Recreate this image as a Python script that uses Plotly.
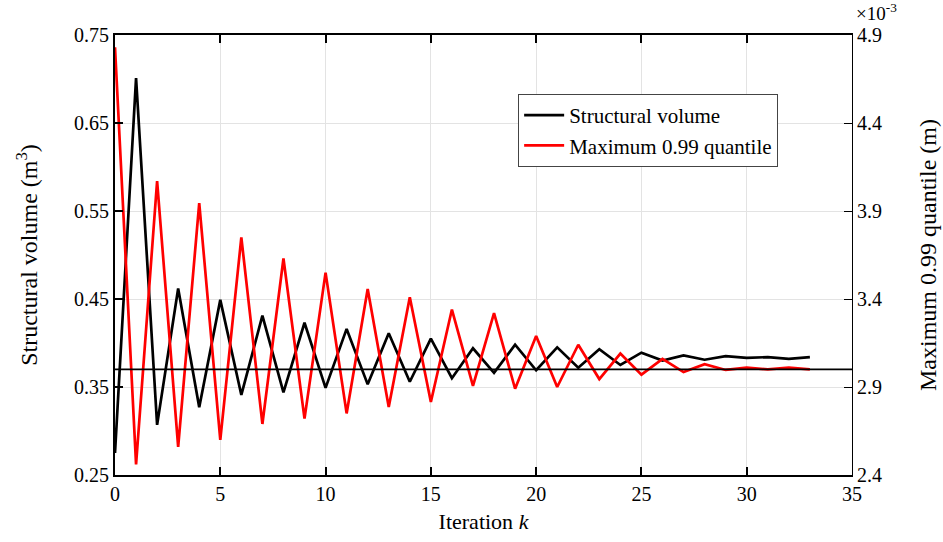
import plotly.graph_objects as go

# Optimisation history
iterations = list(range(34))
structural_volume = [
    0.275, 0.701, 0.307, 0.462, 0.327, 0.449, 0.341, 0.431, 0.344, 0.423,
    0.349, 0.416, 0.353, 0.411, 0.356, 0.405, 0.360, 0.394, 0.366, 0.398,
    0.369, 0.395, 0.372, 0.393, 0.375, 0.389, 0.380, 0.386, 0.381, 0.385,
    0.383, 0.384, 0.382, 0.384,
]
# Maximum 0.99 quantile of displacement, in units of 1e-3 m
max_quantile = [
    4.83, 2.46, 4.07, 2.56, 3.945, 2.60, 3.75, 2.69, 3.63, 2.72,
    3.55, 2.75, 3.457, 2.786, 3.41, 2.815, 3.34, 2.906, 3.32, 2.89,
    3.19, 2.90, 3.14, 2.945, 3.09, 2.97, 3.06, 2.985, 3.03, 2.997,
    3.01, 3.00, 3.01, 3.00,
]
quantile_limit = 3.0

left_ticks = [0.25, 0.35, 0.45, 0.55, 0.65, 0.75]
right_ticks = [2.4, 2.9, 3.4, 3.9, 4.4, 4.9]
x_ticks = [0, 5, 10, 15, 20, 25, 30, 35]

FONT = "Liberation Serif, Times New Roman, serif"

fig = go.Figure()
fig.add_trace(go.Scatter(
    x=iterations, y=structural_volume, mode="lines",
    name="Structural volume", line=dict(color="black", width=2.7),
    yaxis="y",
))
fig.add_trace(go.Scatter(
    x=iterations, y=max_quantile, mode="lines",
    name="Maximum 0.99 quantile", line=dict(color="#ff0000", width=2.7),
    yaxis="y2",
))

# Constraint limit on the quantile
fig.add_shape(type="line", xref="paper", x0=0, x1=1, yref="y2",
              y0=quantile_limit, y1=quantile_limit,
              line=dict(color="black", width=1.6), layer="above")

fig.update_layout(
    width=943, height=542,
    margin=dict(l=115, r=91, t=35, b=67, autoexpand=False),
    paper_bgcolor="white", plot_bgcolor="white",
    font=dict(family=FONT, size=20, color="black"),
    showlegend=True,
    legend=dict(
        x=0.547, y=0.866, xanchor="left", yanchor="top",
        bgcolor="white", bordercolor="#444444", borderwidth=1,
        font=dict(family=FONT, size=21),
        tracegroupgap=0, itemwidth=40,
    ),
    xaxis=dict(
        range=[0, 35], tickvals=x_ticks, automargin=False,
        showgrid=True, gridcolor="#e3e3e3", gridwidth=1,
        zeroline=False,
        showline=True, linecolor="black", linewidth=2, mirror="ticks",
        ticks="inside", ticklen=8, tickwidth=2, tickcolor="black",
        tickfont=dict(family=FONT, size=20),
        title=dict(text="Iteration <i>k</i>", font=dict(family=FONT, size=22), standoff=10),
    ),
    yaxis=dict(
        range=[0.25, 0.75], tickvals=left_ticks, tickformat=".2f", automargin=False,
        showgrid=True, gridcolor="#e3e3e3", gridwidth=1,
        zeroline=False,
        showline=True, linecolor="black", linewidth=2,
        ticks="inside", ticklen=8, tickwidth=2, tickcolor="black",
        tickfont=dict(family=FONT, size=20),
        title=dict(text="Structural volume (m<sup>3</sup>)", font=dict(family=FONT, size=24), standoff=30),
    ),
    yaxis2=dict(
        range=[2.4, 4.9], tickvals=right_ticks, tickformat=".1f", automargin=False,
        overlaying="y", side="right",
        showgrid=False, zeroline=False,
        showline=True, linecolor="black", linewidth=1,
        ticks="inside", ticklen=8, tickwidth=1, tickcolor="black",
        tickfont=dict(family=FONT, size=20),
        title=dict(text="Maximum 0.99 quantile (m)", font=dict(family=FONT, size=24), standoff=38),
    ),
)

fig.add_annotation(
    text="\u00d710<sup>-3</sup>", xref="paper", yref="paper",
    x=1.0, y=1.0, xanchor="left", yanchor="bottom", xshift=2, yshift=9,
    showarrow=False, font=dict(family=FONT, size=19),
)

fig.write_html("out.html")
